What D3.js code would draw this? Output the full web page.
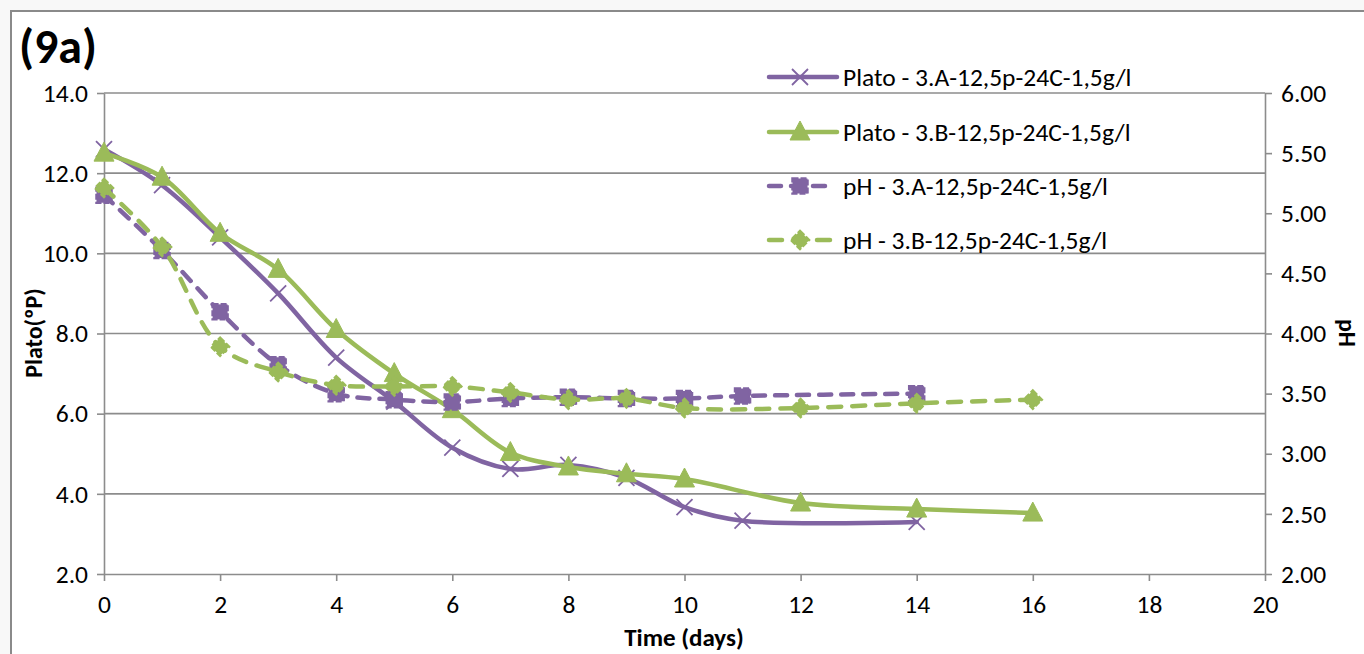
<!DOCTYPE html>
<html>
<head>
<meta charset="utf-8">
<script src="https://cdn.jsdelivr.net/npm/d3@7"></script>
<style>
  html, body { margin: 0; padding: 0; background: #f8f8f8; }
  svg { display: block; font-family: Carlito, Calibri, Lato, sans-serif; }
</style>
</head>
<body>
<svg id="chart" width="1364" height="654"></svg>
<script>
// Sampling days for each trial
const daysA = [0, 1, 2, 3, 4, 5, 6, 7, 8, 9, 10, 11, 14];
const daysB = [0, 1, 2, 3, 4, 5, 6, 7, 8, 9, 10, 12, 14, 16];

// Gravity (°P) per trial
const platoA = [12.6, 11.7, 10.4, 9.0, 7.4, 6.3, 5.15, 4.62, 4.72, 4.4, 3.67, 3.33, 3.3];
const platoB = [12.5, 11.9, 10.5, 9.6, 8.1, 7.0, 6.1, 5.03, 4.67, 4.5, 4.37, 3.77, 3.62, 3.52];

// pH per trial
const phA = [5.15, 4.69, 4.18, 3.74, 3.5, 3.45, 3.43, 3.46, 3.47, 3.46, 3.46, 3.48, 3.5];
const phB = [5.21, 4.72, 3.89, 3.68, 3.57, 3.56, 3.56, 3.51, 3.45, 3.46, 3.38, 3.38, 3.42, 3.45];

// Axis ticks
const xTicks = [0, 2, 4, 6, 8, 10, 12, 14, 16, 18, 20];
const platoTicks = [2, 4, 6, 8, 10, 12, 14];
const phTicks = [2, 2.5, 3, 3.5, 4, 4.5, 5, 5.5, 6];

const seriesNames = [
  "Plato - 3.A-12,5p-24C-1,5g/l",
  "Plato - 3.B-12,5p-24C-1,5g/l",
  "pH - 3.A-12,5p-24C-1,5g/l",
  "pH - 3.B-12,5p-24C-1,5g/l"
];

const PURPLE = "#8064a2";
const GREEN = "#9bbb59";
const GRID = "#8c8c8c";
const FONT = "Carlito, Calibri, Lato, sans-serif";
const LABEL_SIZE = 25.5;

const svg = d3.select("#chart");

// Chart frame
svg.append("rect").attr("x", 11).attr("y", 11).attr("width", 1400).attr("height", 700)
  .attr("fill", "#fff").attr("stroke", "#8a8a8a").attr("stroke-width", 2);

const x = d3.scaleLinear().domain([0, 20]).range([104, 1265]);
const yL = d3.scaleLinear().domain([2, 14]).range([574, 93]);
const yR = d3.scaleLinear().domain([2, 6]).range([574, 93]);

// Horizontal gridlines
svg.append("g").selectAll("line").data(platoTicks.filter(d => d > 2)).join("line")
  .attr("x1", x(0)).attr("x2", x(20))
  .attr("y1", d => yL(d)).attr("y2", d => yL(d))
  .attr("stroke", GRID).attr("stroke-width", 1.6);

function styleAxis(g) {
  g.select(".domain").attr("stroke", GRID).attr("stroke-width", 1.6);
  g.selectAll(".tick line").attr("stroke", GRID).attr("stroke-width", 1.6);
  g.selectAll(".tick text").attr("fill", "#000").attr("font-size", LABEL_SIZE)
    .attr("font-family", FONT);
}

svg.append("g").attr("transform", `translate(0,${yL(2)})`)
  .call(d3.axisBottom(x).tickValues(xTicks).tickFormat(d3.format("d")).tickSize(7).tickSizeOuter(0).tickPadding(14))
  .call(styleAxis);

svg.append("g").attr("transform", `translate(${x(0)},0)`)
  .call(d3.axisLeft(yL).tickValues(platoTicks).tickFormat(d3.format(".1f")).tickSize(7).tickSizeOuter(0).tickPadding(9))
  .call(styleAxis);

svg.append("g").attr("transform", `translate(${x(20)},0)`)
  .call(d3.axisRight(yR).tickValues(phTicks).tickFormat(d3.format(".2f")).tickSize(7).tickSizeOuter(0).tickPadding(9))
  .call(styleAxis);

// Titles
svg.append("text").attr("x", 19).attr("y", 63).attr("font-size", 48).attr("font-weight", "bold")
  .text("(9a)");
svg.append("text").attr("x", 684).attr("y", 646).attr("text-anchor", "middle")
  .attr("font-size", 25).attr("font-weight", "bold").text("Time (days)");
svg.append("text").attr("transform", "translate(42,333) rotate(-90)").attr("text-anchor", "middle")
  .attr("font-size", 24).attr("font-weight", "bold").text("Plato(ºP)");
svg.append("text").attr("transform", "translate(1339,333) rotate(90)").attr("text-anchor", "middle")
  .attr("font-size", 24).attr("font-weight", "bold").text("pH");

// Markers
function markerX(g, cx, cy) {
  g.append("path").attr("d", `M${cx - 8},${cy - 8}L${cx + 8},${cy + 8}M${cx - 8},${cy + 8}L${cx + 8},${cy - 8}`)
    .attr("stroke", PURPLE).attr("stroke-width", 1.8).attr("fill", "none");
}
function markerTri(g, cx, cy) {
  g.append("path").attr("d", `M${cx},${cy - 11}L${cx + 10},${cy + 8}L${cx - 10},${cy + 8}Z`)
    .attr("fill", GREEN).attr("stroke", GREEN).attr("stroke-width", 1);
}
function markerSq(g, cx, cy) {
  g.append("rect").attr("x", cx - 7.5).attr("y", cy - 7.5).attr("width", 15).attr("height", 15)
    .attr("fill", PURPLE).attr("stroke", PURPLE).attr("stroke-width", 2.5).attr("stroke-dasharray", "6,2");
}
function markerDia(g, cx, cy) {
  g.append("path").attr("d", `M${cx},${cy - 9}L${cx + 9},${cy}L${cx},${cy + 9}L${cx - 9},${cy}Z`)
    .attr("fill", GREEN).attr("stroke", GREEN).attr("stroke-width", 2.5).attr("stroke-dasharray", "6,2");
}

const curve = d3.curveCatmullRom.alpha(0.5);

function drawSeries(days, vals, yScale, color, dash, marker) {
  const pts = days.map((d, i) => [x(d), yScale(vals[i])]);
  const g = svg.append("g");
  g.append("path").attr("d", d3.line().curve(curve)(pts))
    .attr("fill", "none").attr("stroke", color).attr("stroke-width", 4.5)
    .attr("stroke-linecap", "round").attr("stroke-linejoin", "round")
    .attr("stroke-dasharray", dash);
  pts.forEach(p => marker(g, p[0], p[1]));
}

drawSeries(daysA, platoA, yL, PURPLE, null, markerX);
drawSeries(daysB, platoB, yL, GREEN, null, markerTri);
drawSeries(daysA, phA, yR, PURPLE, "12,10", markerSq);
drawSeries(daysB, phB, yR, GREEN, "13,11", markerDia);

// Legend
const legendY = [77, 132, 186, 240];
const legendSpec = [
  { color: PURPLE, dash: null, marker: markerX, x2: 837 },
  { color: GREEN, dash: null, marker: markerTri, x2: 837 },
  { color: PURPLE, dash: "12,10", marker: markerSq, x2: 830 },
  { color: GREEN, dash: "13,11", marker: markerDia, x2: 830 }
];
legendSpec.forEach((s, i) => {
  const g = svg.append("g");
  const y = legendY[i];
  g.append("line").attr("x1", 769).attr("x2", s.x2).attr("y1", y).attr("y2", y)
    .attr("stroke", s.color).attr("stroke-width", 4.5).attr("stroke-linecap", "round")
    .attr("stroke-dasharray", s.dash);
  s.marker(g, 800, y);
  g.append("text").attr("x", 843).attr("y", y + 9).attr("font-size", LABEL_SIZE).text(seriesNames[i]);
});
</script>
</body>
</html>
